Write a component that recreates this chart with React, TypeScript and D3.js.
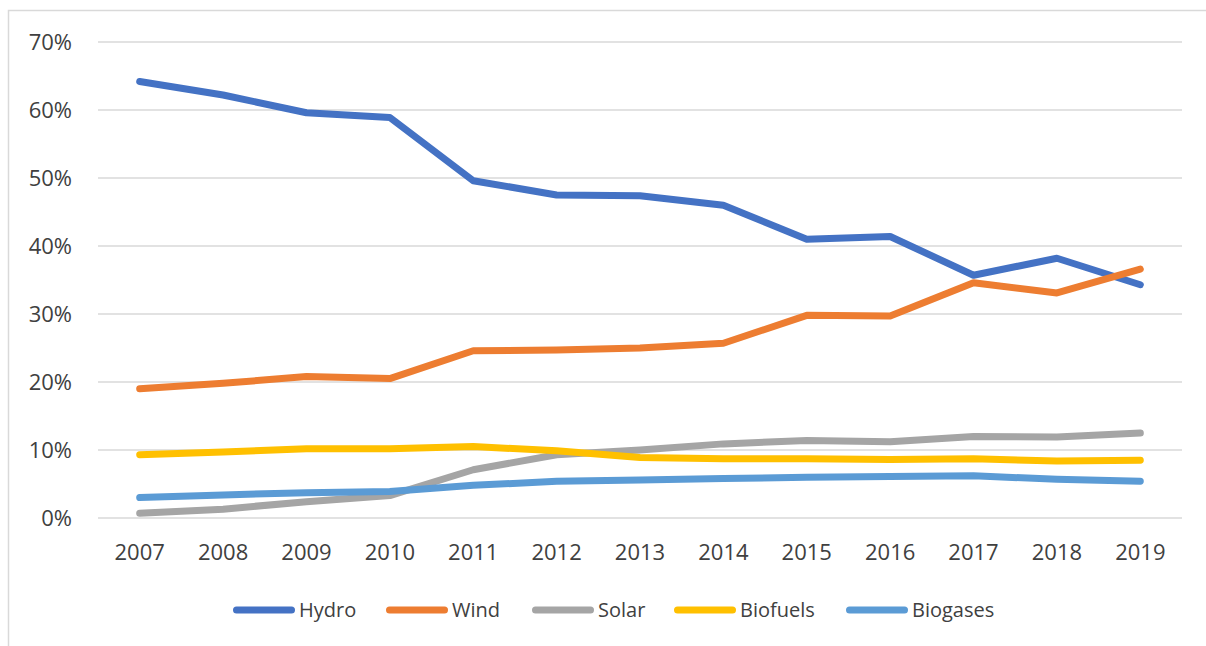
import * as d3 from "d3";

const years = ["2007", "2008", "2009", "2010", "2011", "2012", "2013", "2014", "2015", "2016", "2017", "2018", "2019"];
const hydro = [64.2, 62.2, 59.6, 58.9, 49.6, 47.5, 47.4, 46.0, 41.0, 41.4, 35.7, 38.2, 34.3];
const wind = [19.0, 19.8, 20.8, 20.5, 24.6, 24.7, 25.0, 25.7, 29.8, 29.7, 34.6, 33.1, 36.6];
const solar = [0.7, 1.3, 2.4, 3.3, 7.1, 9.3, 10.0, 10.9, 11.4, 11.2, 12.0, 11.9, 12.5];
const biofuels = [9.3, 9.7, 10.2, 10.2, 10.5, 9.9, 8.9, 8.7, 8.7, 8.6, 8.7, 8.4, 8.5];
const biogases = [3.0, 3.4, 3.7, 3.9, 4.8, 5.4, 5.6, 5.8, 6.0, 6.1, 6.2, 5.7, 5.4];
const yTicks = [0, 10, 20, 30, 40, 50, 60, 70];

const series = [
  { name: "Hydro", values: hydro, color: "#4472C4" },
  { name: "Wind", values: wind, color: "#ED7D31" },
  { name: "Solar", values: solar, color: "#A5A5A5" },
  { name: "Biofuels", values: biofuels, color: "#FFC000" },
  { name: "Biogases", values: biogases, color: "#5B9BD5" },
];

// legend swatch start positions
const legendX = [233, 386, 532, 674, 846];

const font = "'Open Sans', sans-serif";

export default function App() {
  const width = 1206;
  const height = 646;
  const plot = { left: 98, right: 1182, top: 42, bottom: 518 };

  const x = d3.scalePoint<string>().domain(years).range([plot.left, plot.right]).padding(0.5);
  const y = d3.scaleLinear().domain([0, 70]).range([plot.bottom, plot.top]);

  const line = d3
    .line<number>()
    .x((_, i) => x(years[i]) as number)
    .y((d) => y(d));

  return (
    <div style={{ position: "absolute", left: 0, top: 0, width, height, overflow: "hidden", background: "#fff" }}>
      <svg width={width} height={height} style={{ display: "block" }}>
        <rect x={8.5} y={10.5} width={1400} height={800} fill="#fff" stroke="#D9D9D9" strokeWidth={1.5} />
        <g>
          {yTicks.map((t) => (
            <g key={t}>
              <line x1={plot.left} x2={plot.right} y1={y(t)} y2={y(t)} stroke="#D9D9D9" strokeWidth={1.5} />
              <text
                x={72}
                y={y(t)}
                dy="0.36em"
                textAnchor="end"
                fontFamily={font}
                fontSize={22}
                fill="#404040"
              >
                {t}%
              </text>
            </g>
          ))}
        </g>
        <g>
          {years.map((yr) => (
            <text
              key={yr}
              x={x(yr)}
              y={560}
              textAnchor="middle"
              fontFamily={font}
              fontSize={22}
              fill="#404040"
            >
              {yr}
            </text>
          ))}
        </g>
        <g>
          {series.map((s) => (
            <path
              key={s.name}
              d={line(s.values) || ""}
              fill="none"
              stroke={s.color}
              strokeWidth={7}
              strokeLinecap="round"
              strokeLinejoin="round"
            />
          ))}
        </g>
        <g>
          {series.map((s, i) => (
            <g key={s.name} transform={`translate(${legendX[i]}, 610)`}>
              <line x1={3.5} x2={58.5} y1={0} y2={0} stroke={s.color} strokeWidth={7} strokeLinecap="round" />
              <text x={66} y={0} dy="0.36em" fontFamily={font} fontSize={20} fill="#404040">
                {s.name}
              </text>
            </g>
          ))}
        </g>
      </svg>
    </div>
  );
}
